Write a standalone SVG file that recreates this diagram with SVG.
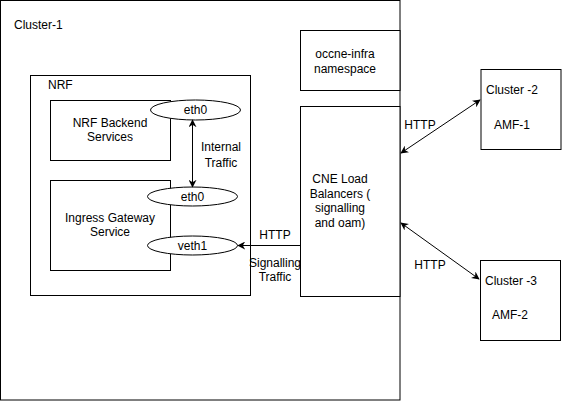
<svg xmlns="http://www.w3.org/2000/svg" width="562" height="401" viewBox="0 0 562 401">
<defs>
<style>
rect,ellipse{fill:#fff;stroke:#000;stroke-width:1}
text{font-family:"Liberation Sans",Arial,sans-serif;font-size:12px;fill:#000}
.c{text-anchor:middle}
.e{stroke:#000;stroke-width:1;fill:none}
</style>
<marker id="a" viewBox="0 0 10 10" refX="9" refY="5" markerWidth="8" markerHeight="8" markerUnits="userSpaceOnUse" orient="auto-start-reverse">
<path d="M0,0 L10,5 L0,10 L3,5 Z" fill="#000"/>
</marker>
</defs>
<rect width="562" height="401" style="fill:#fff;stroke:none"/>
<g id="cluster1">
<rect x="0.5" y="0.5" width="399.5" height="399.5"/>
<text x="14" y="29">Cluster-1</text>
</g>
<g id="nrf">
<rect x="30.5" y="75.5" width="220" height="220"/>
<text x="48" y="89">NRF</text>
</g>
<g id="backend">
<rect x="50.5" y="100.5" width="120" height="60"/>
<text class="c" x="110" y="127">NRF Backend</text>
<text class="c" x="110" y="141">Services</text>
</g>
<g id="eth0a">
<ellipse cx="195.5" cy="110" rx="45" ry="10"/>
<text class="c" x="195.5" y="114">eth0</text>
</g>
<g id="ingress">
<rect x="50.5" y="180.5" width="120" height="90"/>
<text class="c" x="110" y="222">Ingress Gateway</text>
<text class="c" x="110" y="236">Service</text>
</g>
<g id="eth0b">
<ellipse cx="192.5" cy="196.5" rx="45" ry="9.5"/>
<text class="c" x="192.5" y="201">eth0</text>
</g>
<g id="veth1">
<ellipse cx="192.5" cy="245.5" rx="45" ry="9.5"/>
<text class="c" x="192.5" y="250">veth1</text>
</g>
<g id="occne">
<rect x="300.5" y="30.5" width="99.5" height="60"/>
<text class="c" x="345" y="58">occne-infra</text>
<text class="c" x="345" y="73">namespace</text>
</g>
<g id="cne">
<rect x="300.5" y="106.5" width="99.5" height="190"/>
<text class="c" x="340" y="183">CNE Load</text>
<text class="c" x="340" y="198">Balancers (</text>
<text class="c" x="340" y="212">signalling</text>
<text class="c" x="340" y="227">and oam)</text>
</g>
<g id="cluster2">
<rect x="481" y="69.5" width="80" height="80"/>
<text x="486" y="94">Cluster -2</text>
<text x="494" y="129">AMF-1</text>
</g>
<g id="cluster3">
<rect x="480.5" y="260.5" width="80" height="80"/>
<text x="485" y="285">Cluster -3</text>
<text x="492" y="319">AMF-2</text>
</g>
<g id="connectors">
<line class="e" x1="192.5" y1="120" x2="192.5" y2="187" marker-start="url(#a)" marker-end="url(#a)"/>
<text class="c" x="221" y="151">Internal</text>
<text class="c" x="221" y="167">Traffic</text>
<line class="e" x1="300" y1="245.5" x2="238" y2="245.5" marker-end="url(#a)"/>
<text class="c" x="275" y="239">HTTP</text>
<text class="c" x="275" y="267">Signalling</text>
<text class="c" x="275" y="281">Traffic</text>
<line class="e" x1="401" y1="153" x2="480" y2="100" marker-start="url(#a)" marker-end="url(#a)"/>
<text class="c" x="420" y="129">HTTP</text>
<line class="e" x1="401" y1="223" x2="479" y2="279" marker-start="url(#a)" marker-end="url(#a)"/>
<text class="c" x="430" y="269">HTTP</text>
</g>
</svg>
